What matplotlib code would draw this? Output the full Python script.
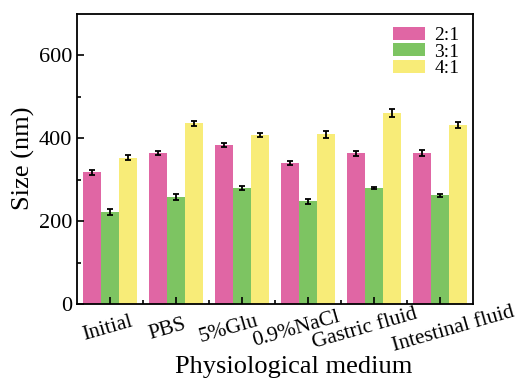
import numpy as np
import matplotlib
matplotlib.use("Agg")
import matplotlib.pyplot as plt
from matplotlib.ticker import FixedLocator
from matplotlib.transforms import ScaledTranslation

plt.rcParams['font.family'] = ['Liberation Serif', 'DejaVu Serif']

media = ['Initial', 'PBS', '5%Glu', '0.9%NaCl', 'Gastric fluid', 'Intestinal fluid']
ratios = ['2:1', '3:1', '4:1']
size_21 = [317, 363, 383, 340, 363, 364]
size_31 = [222, 257, 280, 247, 280, 262]
size_41 = [353, 436, 408, 409, 461, 432]
err_21 = [5, 5, 4, 4, 6, 7]
err_31 = [7, 7, 5, 5, 3, 4]
err_41 = [7, 6, 5, 9, 10, 7]
colors = ['#E066A4', '#7DC462', '#F8EC78']

fig = plt.figure(figsize=(5.2, 3.84), dpi=100)
ax = fig.add_axes([77/520, 1-304/384, 396/520, 290.5/384])

x = np.arange(len(media))
w = 0.27
series = [size_21, size_31, size_41]
errs = [err_21, err_31, err_41]
for i in range(3):
    ax.bar(x + (i-1)*w, series[i], w, color=colors[i], label=ratios[i],
           yerr=errs[i], capsize=2.5, error_kw=dict(elinewidth=1.3, capthick=1.3, ecolor='black'))

ax.set_xlim(-0.5, 5.5)
ax.set_ylim(0, 700)
ax.yaxis.set_major_locator(FixedLocator([0, 200, 400, 600]))
ax.yaxis.set_minor_locator(FixedLocator([100, 300, 500]))
ax.set_xticks(x)
ax.set_xticklabels([])
ax.xaxis.set_minor_locator(FixedLocator(x[:-1] + 0.5))

# the category labels in the original sit a little off their ticks
shifts = [-2.5, -9, -13, -12, -9, 13]
for xi, name, dx in zip(x, media, shifts):
    tr = ax.get_xaxis_transform() + ScaledTranslation(dx/100, -25/100, fig.dpi_scale_trans)
    ax.text(xi, 0, name, transform=tr, rotation=16, rotation_mode='anchor',
            ha='center', va='center', fontsize=15.5, clip_on=False)

ax.tick_params(axis='y', labelsize=16)
ax.tick_params(which='major', direction='in', length=5, width=1.2)
ax.tick_params(which='minor', direction='in', length=3, width=1.2)
for s in ax.spines.values():
    s.set_linewidth(1.3)

ax.set_ylabel('Size (nm)', fontsize=19, labelpad=2.5)
ax.set_xlabel('Physiological medium', fontsize=19)
ax.xaxis.set_label_coords(0.548, -0.179)
ax.legend(loc='upper right', frameon=False, fontsize=14, handlelength=1.6,
          handleheight=0.65, labelspacing=-0.05, handletextpad=0.5,
          borderaxespad=0.3, bbox_to_anchor=(1.0, 1.0))

fig.savefig('out.png', dpi=100)
